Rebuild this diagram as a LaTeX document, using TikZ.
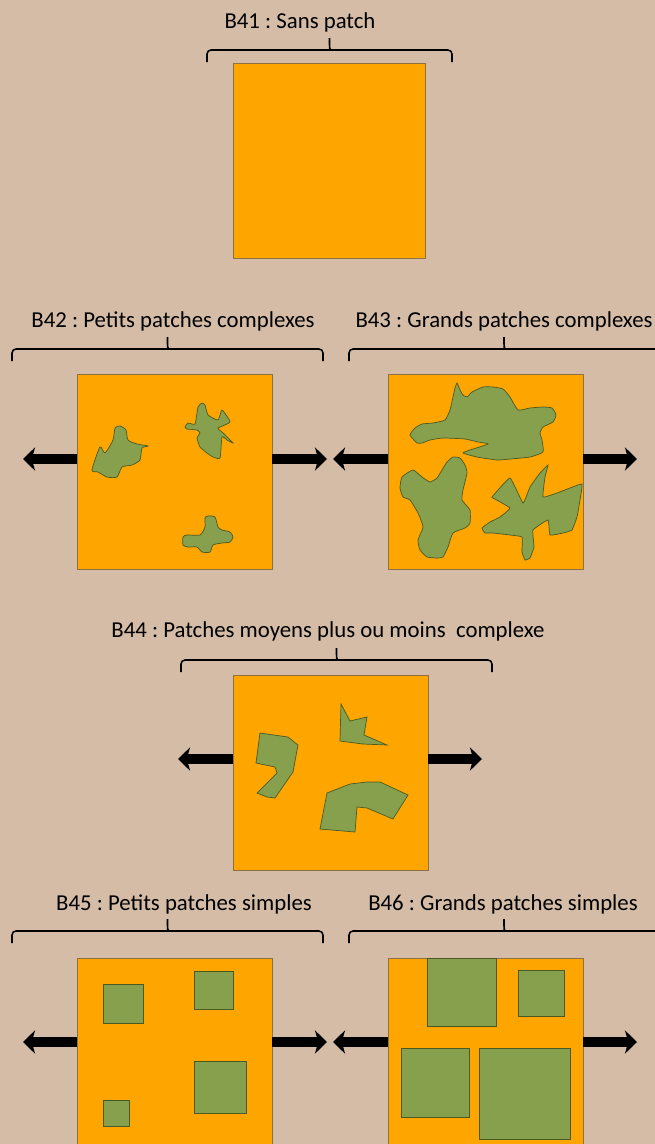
\documentclass[tikz,border=0pt]{standalone}
\usepackage{fontspec}
\setmainfont{Carlito}
\usetikzlibrary{arrows.meta}
\definecolor{bg-tan}{HTML}{D4BCA7}
\definecolor{field-orange}{HTML}{FFA500}
\definecolor{field-edge}{HTML}{8F7040}
\definecolor{patch-green}{HTML}{86A04E}
\definecolor{patch-edge}{HTML}{4A5A22}
\frenchspacing
% brace over a field: left x, right x, foot y
\newcommand{\fieldbrace}[3]{%
  \draw[bracket] (#1,#3) [rounded corners=1mm] -- (#1,#3-12) -- ({(#1+#2)/2-3},#3-12)
    [sharp corners] .. controls ({(#1+#2)/2},#3-12) .. ({(#1+#2)/2},#3-24)
    .. controls ({(#1+#2)/2},#3-12) .. ({(#1+#2)/2+3},#3-12)
    [rounded corners=1mm] -- (#2,#3-12) -- (#2,#3);}

\begin{document}
\begin{tikzpicture}[x=0.025cm, y=-0.025cm,
    every node/.style={font=\fontsize{16.2}{19}\selectfont},
    field/.style={draw=field-edge, fill=field-orange, line width=0.6pt,
                  minimum width=4.875cm, minimum height=4.875cm, inner sep=0pt},
    patch/.style={draw=patch-edge, fill=patch-green, line width=0.5pt},
    bracket/.style={line width=1.1pt},
    bigarrow/.style={line width=0.27cm, -{Stealth[length=0.3cm, width=0.58cm, inset=0.08cm]}}]
  \useasboundingbox (0,0) rectangle (655,1144);
  \fill[bg-tan] (0,0) rectangle (655,1144);
  \begin{scope}
  \clip (0,0) rectangle (655,1144);

  % titles
  \node[anchor=base] (t41) at (300,28) {B41 : Sans patch};
  \node[anchor=base] (t42) at (173,327) {B42 : Petits patches complexes};
  \node[anchor=base] (t43) at (504,327) {B43 : Grands patches complexes};
  \node[anchor=base] (t44) at (328,637) {B44 : Patches moyens plus ou moins~ complexe};
  \node[anchor=base] (t45) at (184,910) {B45 : Petits patches simples};
  \node[anchor=base] (t46) at (503,910) {B46 : Grands patches simples};

  % braces
  \fieldbrace{207}{452}{62}
  \fieldbrace{12}{323}{361}
  \fieldbrace{349}{659}{361}
  \fieldbrace{181}{492}{672}
  \fieldbrace{12}{323}{943}
  \fieldbrace{349}{659}{943}

  % fields
  \node[field, minimum width=4.8cm] (b41) at (329,160.5) {};
  \node[field] (b42) at (174.5,471.5) {};
  \node[field] (b43) at (485.5,471.5) {};
  \node[field] (b44) at (330.5,772.5) {};
  \node[field] (b45) at (174.5,1055.5) {};
  \node[field] (b46) at (485.5,1055.5) {};

  % B42 patches
  \draw[patch] plot[smooth cycle, tension=0.4] coordinates {(92,470) (100,447) (105,453) (113,440)
    (115,428) (120,426) (126,430) (128,440) (137,444) (148,446) (142,448) (140,460) (132,465)
    (122,467) (117,477) (107,477) (98,472)};
  \draw[patch] plot[smooth cycle, tension=0.3] coordinates {(185,427) (188,423) (195,424) (198,407)
    (202,403) (205,405) (208,415) (218,420) (222,410) (230,422) (218,428) (222,432) (233,443)
    (227,440) (222,437) (220,458) (213,457) (207,453) (200,447) (197,438) (200,433) (197,430) (187,429)};
  \draw[patch] plot[smooth cycle, tension=0.4] coordinates {(183,537) (187,535) (200,535) (205,527)
    (205,518) (208,516) (215,517) (218,527) (222,530) (230,532) (233,537) (230,542) (222,543)
    (213,545) (210,552) (202,552) (197,547) (188,547) (183,545)};

  % B43 patches
  \draw[patch] plot[smooth cycle, tension=0.3] coordinates {(410,435) (415,428) (422,424) (433,423)
    (445,420) (450,410) (453,397) (455,388) (457,383) (460,390) (463,395) (467,397) (472,392)
    (483,387) (493,387) (503,389) (510,397) (518,410) (530,408) (543,407) (552,408) (556,415)
    (553,422) (543,427) (540,433) (542,440) (543,452) (530,457) (510,459) (497,460) (477,457)
    (463,453) (470,450) (488,444) (478,442) (465,439) (443,438) (430,440) (422,443) (417,443)};
  \draw[patch] plot[smooth cycle, tension=0.3] coordinates {(400,488) (402,477) (413,470) (422,477)
    (430,482) (437,478) (442,470) (447,462) (453,457) (460,458) (465,465) (467,473) (463,490)
    (462,500) (470,510) (470,523) (465,528) (453,533) (448,547) (443,557) (437,558) (427,557)
    (420,550) (418,540) (423,527) (418,513) (410,500) (403,497)};
  \draw[patch] plot[smooth cycle, tension=0.2] coordinates {(492,497) (510,478) (523,503) (530,487)
    (540,473) (548,465) (545,477) (543,497) (557,493) (570,488) (582,484) (580,500) (577,517)
    (572,530) (563,533) (550,535) (548,520) (533,530) (534,547) (530,558) (525,560) (522,552)
    (522,537) (510,535) (493,533) (485,533) (482,528) (490,522) (500,517) (510,508) (493,498)};

  % B44 patches
  \draw[patch] (260,733) -- (288,737) -- (298,745) -- (293,772) -- (275,798) -- (267,797)
    -- (257,793) -- (277,773) -- (275,767) -- (256,763) -- cycle;
  \draw[patch] (341,704) -- (350,721) -- (367,717) -- (364,735) -- (387,745) -- (363,744)
    -- (340,741) -- cycle;
  \draw[patch] (327,793) -- (350,784) -- (367,782) -- (380,782) -- (408,795) -- (393,819)
    -- (367,808) -- (357,807) -- (355,832) -- (320,829) -- cycle;

  % B45 patches
  \draw[patch] (103,984) rectangle (143,1023);
  \draw[patch] (194,971) rectangle (233,1009);
  \draw[patch] (194,1061) rectangle (246,1113);
  \draw[patch] (103,1100) rectangle (129,1126);

  % B46 patches
  \draw[patch] (427,958) rectangle (496,1026);
  \draw[patch] (518,970) rectangle (564,1016);
  \draw[patch] (401,1048) rectangle (469,1117);
  \draw[patch] (479,1048) rectangle (570,1139);

  % arrows
  \coordinate (l42) at (23,459);   \coordinate (r42) at (327,459);
  \coordinate (l43) at (333,459);  \coordinate (r43) at (637,459);
  \coordinate (l44) at (178,759);  \coordinate (r44) at (482,759);
  \coordinate (l45) at (23,1042);  \coordinate (r45) at (327,1042);
  \coordinate (l46) at (333,1042); \coordinate (r46) at (637,1042);
  \foreach \b in {42,43,44,45,46} {
    \draw[bigarrow] (b\b.west |- l\b) -- (l\b);
    \draw[bigarrow] (b\b.east |- r\b) -- (r\b);
  }
  \end{scope}
\end{tikzpicture}
\end{document}
